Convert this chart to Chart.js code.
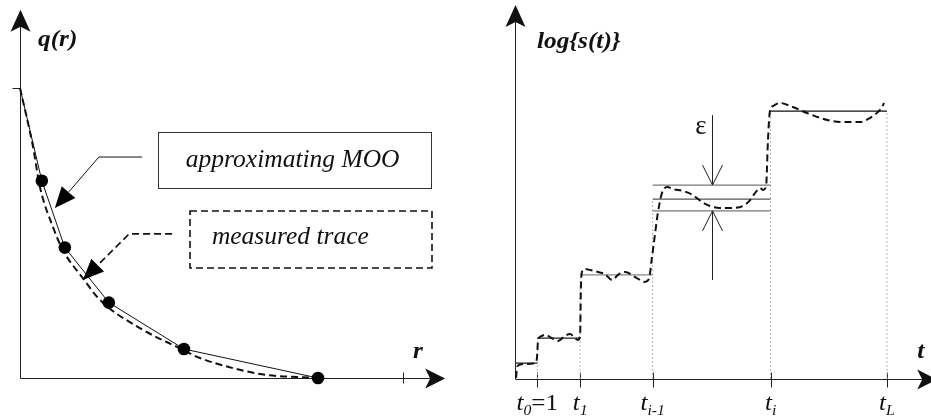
<!DOCTYPE html>
<html>
<head>
<meta charset="utf-8">
<script src="https://cdn.jsdelivr.net/npm/chart.js@4/dist/chart.umd.min.js"></script>
<style>
  html, body { margin: 0; padding: 0; background: #fff; width: 931px; height: 420px; overflow: hidden; }
  canvas { position: absolute; top: 0; }
  #qChart { left: 0; }
  #sChart { left: 465px; }
</style>
</head>
<body>
<canvas id="qChart" width="465" height="420"></canvas>
<canvas id="sChart" width="466" height="420"></canvas>
<script>
// ---------- q(r): approximating MOO knots ----------
const mooR = [0, 0.57, 1.17, 2.32, 4.28, 7.78];
const mooQ = [1, 0.68, 0.45, 0.26, 0.10, 0];

// ---------- q(r): measured trace ----------
const traceR = [0, 0.34, 0.52, 0.86, 1.12, 1.62, 2.09, 3.13, 4.10, 4.70, 5.56, 6.45, 7.31, 7.78];
const traceQ = [1, 0.797, 0.659, 0.521, 0.441, 0.348, 0.269, 0.172, 0.107, 0.069, 0.034, 0.010, 0.003, 0];

// ---------- log{s(t)}: piecewise-constant approximation ----------
const tBounds = [0, 0.60, 1.75, 3.70, 6.87, 10];
const tTickLabels = [['t', '0', '=1'], ['t', '1'], ['t', 'i-1'], ['t', 'i'], ['t', 'L']];
const stepLevels = [0.59, 1.52, 3.87, 6.69, 9.96];
const epsBand = [6.25, 7.21];

// ---------- log{s(t)}: measured trace ----------
const sTraceT = [0.03, 0.05, 0.11, 0.32, 0.54, 0.59, 0.62, 0.67, 0.81, 0.99, 1.16, 1.34, 1.48, 1.61, 1.69, 1.75,
  1.77, 1.80, 1.88, 2.02, 2.23, 2.42, 2.61, 2.77, 2.96, 3.23, 3.49, 3.60, 3.68, 3.76, 3.84, 3.95, 4.09, 4.25,
  4.52, 4.78, 5.03, 5.24, 5.51, 5.86, 6.13, 6.32, 6.45, 6.59, 6.67, 6.75, 6.80, 6.85, 6.94, 7.12, 7.47, 7.85,
  8.39, 8.92, 9.27, 9.54, 9.76, 9.87, 9.92];
const sTraceY = [0.04, 0.41, 0.52, 0.56, 0.59, 0.78, 1.45, 1.56, 1.64, 1.52, 1.41, 1.60, 1.67, 1.52, 1.45, 1.60,
  3.31, 3.98, 4.09, 4.05, 3.98, 3.90, 3.68, 3.87, 3.98, 3.79, 3.61, 3.72, 4.50, 5.35, 6.17, 6.91, 7.14, 7.06,
  6.99, 6.84, 6.58, 6.43, 6.36, 6.36, 6.43, 6.65, 6.91, 7.10, 7.03, 7.17, 8.88, 9.93, 10.15, 10.26, 10.11, 9.89,
  9.63, 9.55, 9.55, 9.70, 9.93, 10.11, 10.26];

// ---------- drawing helpers ----------
const SERIF = '"Liberation Serif", "Times New Roman", serif';
const INK = '#111';

function richText(ctx, parts, x, y, align, sx) {
  sx = sx || 1.1;
  let w = 0;
  parts.forEach(p => { ctx.font = p.font; p.w = ctx.measureText(p.text).width; w += p.w; });
  const x0 = align === 'center' ? x - w * sx / 2 : (align === 'right' ? x - w * sx : x);
  ctx.save();
  ctx.translate(x0, y);
  ctx.scale(sx, 1);
  ctx.textAlign = 'left';
  ctx.textBaseline = 'alphabetic';
  ctx.fillStyle = INK;
  let cx = 0;
  parts.forEach(p => { ctx.font = p.font; ctx.fillText(p.text, cx, p.dy || 0); cx += p.w; });
  ctx.restore();
}

// filled arrow head; notch > 0 gives a concave back
function arrowHead(ctx, tx, ty, ang, len, hw, notch) {
  const dx = Math.cos(ang), dy = Math.sin(ang);
  const bx = tx - dx * len, by = ty - dy * len;
  ctx.beginPath();
  ctx.moveTo(tx, ty);
  ctx.lineTo(bx - dy * hw, by + dx * hw);
  ctx.lineTo(tx - dx * (len - notch), ty - dy * (len - notch));
  ctx.lineTo(bx + dy * hw, by - dx * hw);
  ctx.closePath();
  ctx.fill();
}

function line(ctx, pts) {
  ctx.beginPath();
  ctx.moveTo(pts[0][0], pts[0][1]);
  for (let i = 1; i < pts.length; i++) ctx.lineTo(pts[i][0], pts[i][1]);
  ctx.stroke();
}

function mapper(chart) {
  const xs = chart.scales.x, ys = chart.scales.y;
  return (x, y) => [xs.getPixelForValue(x), ys.getPixelForValue(y)];
}

// axis pair with arrow heads; ends given in data units
function drawAxes(ctx, P, xEnd, yEnd) {
  const [ox, oy] = P(0, 0);
  const [ex] = P(xEnd, 0);
  const [, ey] = P(0, yEnd);
  const ax = Math.round(ox) + 0.5, ay = Math.round(oy) + 0.5;
  ctx.save();
  ctx.strokeStyle = '#222';
  ctx.fillStyle = '#111';
  ctx.lineWidth = 1;
  line(ctx, [[ax, ay], [ax, ey + 12]]);
  line(ctx, [[ax, ay], [ex - 12, ay]]);
  arrowHead(ctx, ax, ey, -Math.PI / 2, 22, 10, 5);
  arrowHead(ctx, ex, ay, 0, 20, 10, 5);
  ctx.restore();
  return [ax, ay];
}

// callout: horizontal/diagonal leader ending in a filled triangle
function leader(ctx, P, pts, dashed) {
  const px = pts.map(p => P(p[0], p[1]));
  const tip = px[px.length - 1], prev = px[px.length - 2];
  const ang = Math.atan2(tip[1] - prev[1], tip[0] - prev[0]);
  const len = 21;
  const base = [tip[0] - Math.cos(ang) * len, tip[1] - Math.sin(ang) * len];
  ctx.save();
  ctx.strokeStyle = '#111';
  ctx.fillStyle = '#000';
  ctx.lineWidth = dashed ? 1.6 : 1;
  if (dashed) ctx.setLineDash([7, 4]);
  line(ctx, px.slice(0, -1).concat([base]));
  ctx.setLineDash([]);
  arrowHead(ctx, tip[0], tip[1], ang, len, 9, 0);
  ctx.restore();
}

// ---------- q(r) chart ----------
const qDecor = {
  id: 'qDecor',
  beforeDatasetsDraw(chart) {
    const ctx = chart.ctx, P = mapper(chart);
    const [ax, ay] = drawAxes(ctx, P, 11.1, 1.27);
    ctx.save();
    ctx.strokeStyle = '#222';
    ctx.lineWidth = 1;
    const [tx] = P(10, 0);
    line(ctx, [[Math.round(tx) + 0.5, ay - 6], [Math.round(tx) + 0.5, ay + 5]]);
    const [, ty] = P(0, 1);
    line(ctx, [[ax - 8, Math.round(ty) + 0.5], [ax, Math.round(ty) + 0.5]]);
    ctx.restore();
  },
  afterDatasetsDraw(chart) {
    const ctx = chart.ctx, P = mapper(chart);
    const lab = `italic bold 23px ${SERIF}`;
    let p = P(0.47, 1.145);
    richText(ctx, [{ text: 'q(r)', font: lab }], p[0], p[1], 'left');
    p = P(10.26, 0.069);
    richText(ctx, [{ text: 'r', font: lab }], p[0], p[1], 'left');

    // legend boxes
    ctx.save();
    ctx.strokeStyle = '#333';
    ctx.lineWidth = 1;
    let a = P(3.60, 0.848), b = P(10.73, 0.655);
    ctx.strokeRect(Math.round(a[0]) + 0.5, Math.round(a[1]) + 0.5, Math.round(b[0] - a[0]), Math.round(b[1] - a[1]));
    ctx.lineWidth = 1.6;
    ctx.strokeStyle = '#111';
    ctx.setLineDash([7, 4]);
    a = P(4.44, 0.576); b = P(10.76, 0.379);
    ctx.strokeRect(Math.round(a[0]), Math.round(a[1]), Math.round(b[0] - a[0]), Math.round(b[1] - a[1]));
    ctx.restore();

    const boxFont = `italic 25px ${SERIF}`;
    p = P(4.33, 0.727);
    richText(ctx, [{ text: 'approximating MOO', font: boxFont }], p[0], p[1], 'left', 1.02);
    p = P(5.01, 0.462);
    richText(ctx, [{ text: 'measured trace', font: boxFont }], p[0], p[1], 'left', 1.02);

    leader(ctx, P, [[3.19, 0.762], [2.06, 0.762], [0.91, 0.586]], false);
    leader(ctx, P, [[3.97, 0.497], [2.85, 0.497], [1.64, 0.338]], true);
  }
};

new Chart(document.getElementById('qChart'), {
  type: 'line',
  data: {
    datasets: [
      {
        label: 'approximating MOO',
        data: mooR.map((r, i) => ({ x: r, y: mooQ[i] })),
        borderColor: '#111',
        borderWidth: 1,
        pointRadius: mooR.map((r, i) => (i === 0 ? 0 : 6.3)),
        pointBackgroundColor: '#000',
        pointBorderWidth: 0,
        tension: 0,
        clip: false,
        order: 0
      },
      {
        label: 'measured trace',
        data: traceR.map((r, i) => ({ x: r, y: traceQ[i] })),
        borderColor: '#111',
        borderWidth: 2,
        borderDash: [7, 4],
        pointRadius: 0,
        cubicInterpolationMode: 'monotone',
        clip: false,
        order: 1
      }
    ]
  },
  options: {
    responsive: false,
    animation: false,
    devicePixelRatio: 1,
    layout: { padding: { left: 20, right: 62, top: 88, bottom: 42 } },
    scales: {
      x: { type: 'linear', min: 0, max: 10, display: false },
      y: { type: 'linear', min: 0, max: 1, display: false }
    },
    plugins: { legend: { display: false }, tooltip: { enabled: false } }
  },
  plugins: [qDecor]
});

// ---------- log{s(t)} chart ----------
const levelColors = ['#222', '#222', '#888', '#555', '#111'];

const sDecor = {
  id: 'sDecor',
  beforeDatasetsDraw(chart) {
    const ctx = chart.ctx, P = mapper(chart);
    const [, ay] = drawAxes(ctx, P, 11.35, 13.9);
    ctx.save();
    ctx.strokeStyle = '#222';
    ctx.lineWidth = 1;
    tBounds.slice(1).forEach(t => {
      const x = Math.round(P(t, 0)[0]) + 0.5;
      line(ctx, [[x, ay - 7], [x, ay + 8]]);
    });
    ctx.restore();
  },
  afterDatasetsDraw(chart) {
    const ctx = chart.ctx, P = mapper(chart);
    const lab = `italic bold 23px ${SERIF}`;
    let p = P(0.59, 12.3);
    richText(ctx, [{ text: 'log{s(t)}', font: lab }], p[0], p[1], 'left');
    p = P(10.81, 0.78);
    richText(ctx, [{ text: 't', font: lab }], p[0], p[1], 'left');

    // tick labels under the boundaries
    const main = `italic 24px ${SERIF}`, sub = `italic 15px ${SERIF}`, up = `24px ${SERIF}`;
    tBounds.slice(1).forEach((t, i) => {
      const parts = tTickLabels[i];
      const rich = [{ text: parts[0], font: main }, { text: parts[1], font: sub, dy: 5 }];
      if (parts[2]) rich.push({ text: parts[2], font: up });
      const x = P(t, 0)[0];
      richText(ctx, rich, x, 410, 'center', 1.05);
    });

    // epsilon tolerance marker
    const ex = Math.round(P(5.30, 0)[0]) + 0.5;
    const top = P(5.30, epsBand[1])[1], bot = P(5.30, epsBand[0])[1];
    const upEnd = P(5.30, 9.81)[1], dnEnd = P(5.30, 3.68)[1];
    ctx.save();
    ctx.strokeStyle = '#222';
    ctx.lineWidth = 1;
    line(ctx, [[ex, upEnd], [ex, top]]);
    line(ctx, [[ex - 10, top - 20], [ex, top], [ex + 10, top - 20]]);
    line(ctx, [[ex, dnEnd], [ex, bot]]);
    line(ctx, [[ex - 10, bot + 20], [ex, bot], [ex + 10, bot + 20]]);
    ctx.restore();
    p = P(5.0, 9.37);
    ctx.save();
    ctx.font = `27px ${SERIF}`;
    ctx.fillStyle = INK;
    ctx.textAlign = 'center';
    ctx.textBaseline = 'middle';
    ctx.fillText('ε', p[0], p[1]);
    ctx.restore();
  }
};

const sDatasets = [];
// dotted guides from the axis up to each step
tBounds.slice(1).forEach((t, i) => {
  sDatasets.push({
    data: [{ x: t, y: 0 }, { x: t, y: stepLevels[Math.min(i + 1, stepLevels.length - 1)] }],
    borderColor: '#b5b5b5', borderWidth: 1, borderDash: [2, 2], pointRadius: 0, clip: false, order: 4
  });
});
// approximating steps
stepLevels.forEach((lv, k) => {
  sDatasets.push({
    data: [{ x: tBounds[k], y: lv }, { x: tBounds[k + 1], y: lv }],
    borderColor: levelColors[k], borderWidth: 1.3, pointRadius: 0, clip: false, order: 3
  });
});
// tolerance band around the (i)-th step
epsBand.forEach(v => {
  sDatasets.push({
    data: [{ x: tBounds[3], y: v }, { x: tBounds[4], y: v }],
    borderColor: '#777', borderWidth: 1.3, pointRadius: 0, clip: false, order: 3
  });
});
// measured trace
sDatasets.push({
  label: 'log s(t)',
  data: sTraceT.map((t, i) => ({ x: t, y: sTraceY[i] })),
  borderColor: '#111', borderWidth: 2, borderDash: [7, 4], pointRadius: 0,
  cubicInterpolationMode: 'monotone', clip: false, order: 0
});

new Chart(document.getElementById('sChart'), {
  type: 'line',
  data: { datasets: sDatasets },
  options: {
    responsive: false,
    animation: false,
    devicePixelRatio: 1,
    layout: { padding: { left: 50, right: 44, top: 110, bottom: 41 } },
    scales: {
      x: { type: 'linear', min: 0, max: 10, display: false },
      y: { type: 'linear', min: 0, max: 10, display: false }
    },
    plugins: { legend: { display: false }, tooltip: { enabled: false } }
  },
  plugins: [sDecor]
});
</script>
</body>
</html>
